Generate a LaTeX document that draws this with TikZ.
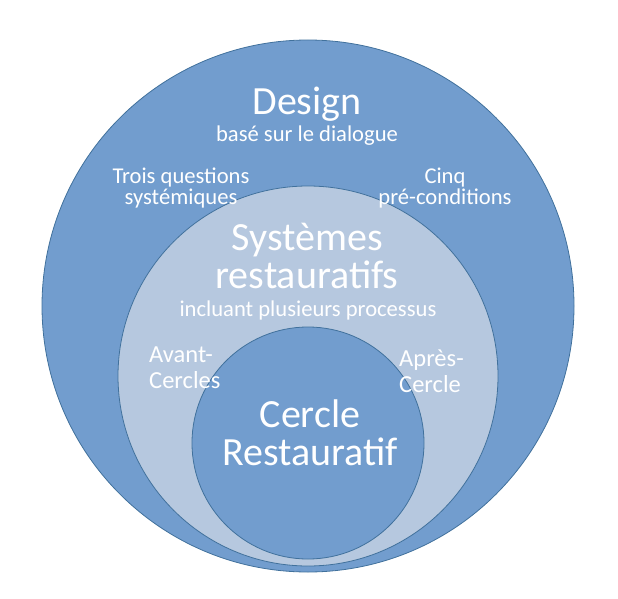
\documentclass[tikz,border=0pt]{standalone}
\usepackage{fontspec}
\setmainfont{Carlito}
\definecolor{ringblue}{HTML}{729DCE}
\definecolor{ringlight}{HTML}{B6C8DF}
\definecolor{ringline}{HTML}{41719C}

\begin{document}
\begin{tikzpicture}[
  x=1pt, y=-1pt,
  ring/.style={draw=ringline, line width=0.8pt},
  every node/.style={text=white, inner sep=0pt, align=center, anchor=base},
  title/.style={font=\fontsize{40}{38}\selectfont},
  sub/.style={font=\fontsize{22.6}{21}\selectfont},
  side/.style={font=\fontsize{24.5}{26}\selectfont, align=left, anchor=base west}
]
  \useasboundingbox (0,0) rectangle (618,599);

  \draw[ring, fill=ringblue] (308,306) circle[radius=266pt];
  \draw[ring, fill=ringlight] (308,376) circle[radius=190pt];
  \draw[ring, fill=ringblue] (308,443) circle[radius=116pt];

  % base anchor sits on the last line
  \node[title] (design) at (307,114) {Design};
  \node[sub] (dialogue) at (307,141) {basé sur le dialogue};
  \node[sub] (trois) at (181,204) {Trois questions\\systémiques};
  \node[sub] (cinq) at (445,204) {Cinq\\pré-conditions};

  \node[title] (systemes) at (307,288) {Systèmes\\restauratifs};
  \node[sub] (processus) at (308,316) {incluant plusieurs processus};
  \node[side] (avant) at (149,388) {Avant-\\Cercles};
  \node[side] (apres) at (399,392) {Après-\\Cercle};

  \node[title] (cercle) at (310,465) {Cercle\\Restauratif};
\end{tikzpicture}
\end{document}
